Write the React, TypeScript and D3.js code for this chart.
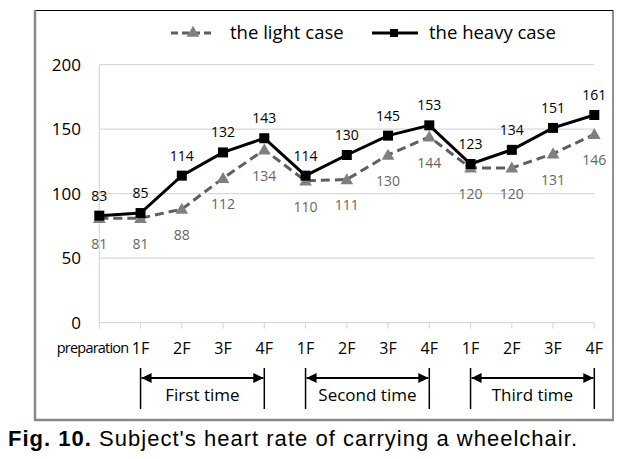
import React from "react";
import * as d3 from "d3";

const categories = ["preparation", "1F", "2F", "3F", "4F", "1F", "2F", "3F", "4F", "1F", "2F", "3F", "4F"];
const lightValues = [81, 81, 88, 112, 134, 110, 111, 130, 144, 120, 120, 131, 146];
const heavyValues = [83, 85, 114, 132, 143, 114, 130, 145, 153, 123, 134, 151, 161];
const yTicks = [0, 50, 100, 150, 200];
const groups = [
  { label: "First time", from: 1, to: 4 },
  { label: "Second time", from: 5, to: 8 },
  { label: "Third time", from: 9, to: 12 },
];

const W = 638, H = 459;
const FONT = "'Open Sans', 'Noto Sans', sans-serif";

export default function App() {
  const idx = categories.map((_, i) => i);
  const x = d3.scalePoint<number>().domain(idx).range([99.3, 594.3]);
  const y = d3.scaleLinear().domain([0, 200]).range([322.7, 64.7]);
  const line = d3.line<number>().x((_, i) => x(i)!).y((d) => y(d));
  const tri = d3.symbol().type(d3.symbolTriangle).size(70)();
  const lightColor = "#808080";
  const lightLine = "#5f5f5f";

  return (
    <svg width={W} height={H} style={{ position: "absolute", left: 0, top: 0, background: "#fff" }}>
      <defs>
        <marker id="arrL" viewBox="0 0 10 10" refX="0" refY="5" markerWidth="10" markerHeight="10" markerUnits="userSpaceOnUse" orient="auto">
          <path d="M10,0 L0,5 L10,10 z" fill="#000" />
        </marker>
        <marker id="arrR" viewBox="0 0 10 10" refX="10" refY="5" markerWidth="10" markerHeight="10" markerUnits="userSpaceOnUse" orient="auto">
          <path d="M0,0 L10,5 L0,10 z" fill="#000" />
        </marker>
      </defs>
      <rect x={0} y={0} width={W} height={H} fill="#fff" />
      {/* frame */}
      <line x1={35} x2={613} y1={10.5} y2={10.5} stroke="#000" strokeWidth={1} />
      <line x1={35} x2={35} y1={10} y2={421} stroke="#888" strokeWidth={2.5} />
      <line x1={613} x2={613} y1={10} y2={421} stroke="#222" strokeWidth={1} />
      <line x1={35} x2={614} y1={420} y2={420} stroke="#888" strokeWidth={2.5} />

      {/* gridlines */}
      {yTicks.map((t) => (
        <line key={t} x1={x(0)} x2={x(12)} y1={y(t)} y2={y(t)} stroke="#d9d9d9" strokeWidth={1.2} />
      ))}
      <line x1={x(0)} x2={x(0)} y1={y(200)} y2={y(0)} stroke="#d9d9d9" strokeWidth={1.2} />
      {idx.map((i) => (
        <line key={i} x1={x(i)} x2={x(i)} y1={y(0)} y2={y(0) + 6} stroke="#d9d9d9" strokeWidth={1.2} />
      ))}
      {yTicks.map((t) => (
        <text key={t} x={81} y={y(t)} dy="0.35em" textAnchor="end" fontFamily={FONT} fontSize={17} fill="#000">
          {t}
        </text>
      ))}
      {categories.map((c, i) =>
        i === 0 ? (
          <text key={i} x={x(0)! + 29} y={348} dy="0.35em" textAnchor="end" fontFamily={FONT} fontSize={14.5} letterSpacing={-0.8} fill="#000">
            {c}
          </text>
        ) : (
          <text key={i} x={x(i)} y={348} dy="0.35em" textAnchor="middle" fontFamily={FONT} fontSize={16} fill="#000">
            {c}
          </text>
        )
      )}

      {/* light series */}
      <path d={line(lightValues)!} fill="none" stroke={lightLine} strokeWidth={3} strokeDasharray="9,5" />
      {lightValues.map((v, i) => (
        <path key={i} d={tri!} transform={`translate(${x(i)},${y(v) + 1})`} fill={lightColor} />
      ))}
      {/* heavy series */}
      <path d={line(heavyValues)!} fill="none" stroke="#000" strokeWidth={3} />
      {heavyValues.map((v, i) => (
        <rect key={i} x={x(i)! - 5} y={y(v) - 5} width={10} height={10} fill="#000" />
      ))}

      {/* labels */}
      {heavyValues.map((v, i) => (
        <text key={i} x={x(i)} y={y(v) - 20} dy="0.35em" textAnchor="middle" fontFamily={FONT} fontSize={14} fill="#000">
          {v}
        </text>
      ))}
      {lightValues.map((v, i) => (
        <text key={i} x={x(i)} y={y(v) + 26} dy="0.35em" textAnchor="middle" fontFamily={FONT} fontSize={14} fill="#666">
          {v}
        </text>
      ))}

      {/* legend */}
      <line x1={171} x2={215} y1={33} y2={33} stroke={lightLine} strokeWidth={3} strokeDasharray="7,4" />
      <path d={tri!} transform="translate(193,33)" fill={lightColor} />
      <text x={230} y={33} dy="0.35em" fontFamily={FONT} fontSize={18.5} fill="#000">the light case</text>
      <line x1={372} x2={418} y1={33} y2={33} stroke="#000" strokeWidth={3} />
      <rect x={390} y={29} width={8} height={8} fill="#000" />
      <text x={429} y={33} dy="0.35em" fontFamily={FONT} fontSize={18.5} fill="#000">the heavy case</text>

      {/* group brackets */}
      {groups.map((g) => {
        const x1 = x(g.from)!, x2 = x(g.to)!;
        return (
          <g key={g.label}>
            <line x1={x1} x2={x1} y1={368} y2={409} stroke="#000" strokeWidth={1.5} />
            <line x1={x2} x2={x2} y1={368} y2={409} stroke="#000" strokeWidth={1.5} />
            <line x1={x1 + 1} x2={x2 - 1} y1={378} y2={378} stroke="#000" strokeWidth={2} markerStart="url(#arrL)" markerEnd="url(#arrR)" />
            <text x={(x1 + x2) / 2} y={395} dy="0.35em" textAnchor="middle" fontFamily={FONT} fontSize={17} fill="#000">
              {g.label}
            </text>
          </g>
        );
      })}

      {/* caption */}
      <text x={8} y={446} fontFamily="'Liberation Sans', 'DejaVu Sans', sans-serif" fontSize={22} fill="#000" textLength={569} lengthAdjust="spacing">
        <tspan fontWeight="bold">Fig. 10.</tspan>
        <tspan> Subject's heart rate of carrying a wheelchair.</tspan>
      </text>
    </svg>
  );
}
